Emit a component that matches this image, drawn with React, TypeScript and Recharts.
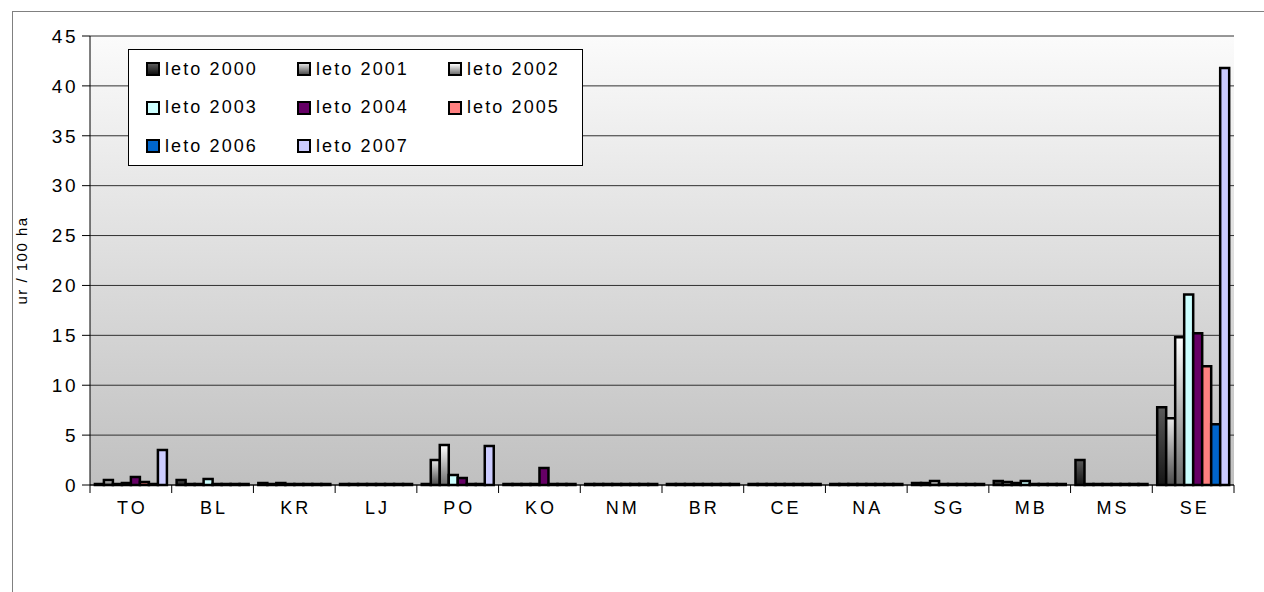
import React from "react";
import { BarChart, Bar, XAxis, YAxis, CartesianGrid, Legend } from "recharts";

const categories = ["TO", "BL", "KR", "LJ", "PO", "KO", "NM", "BR", "CE", "NA", "SG", "MB", "MS", "SE"];

const leto2000 = [0.1, 0.5, 0.2, 0, 0, 0, 0, 0, 0, 0, 0.2, 0.4, 2.5, 7.8];
const leto2001 = [0.5, 0.1, 0.1, 0, 2.5, 0, 0, 0, 0, 0, 0.2, 0.3, 0, 6.7];
const leto2002 = [0.1, 0.1, 0.2, 0, 4.0, 0, 0, 0, 0, 0, 0.4, 0.2, 0, 14.8];
const leto2003 = [0.2, 0.6, 0, 0, 1.0, 0, 0, 0, 0, 0, 0.1, 0.4, 0, 19.1];
const leto2004 = [0.8, 0, 0, 0, 0.7, 1.7, 0, 0, 0.1, 0, 0, 0.1, 0, 15.2];
const leto2005 = [0.3, 0, 0, 0, 0, 0, 0, 0, 0, 0, 0, 0, 0, 11.9];
const leto2006 = [0, 0, 0, 0, 0, 0, 0, 0, 0, 0, 0, 0, 0, 6.1];
const leto2007 = [3.5, 0, 0, 0, 3.9, 0, 0, 0, 0, 0, 0, 0, 0, 41.8];

const years = ["2000", "2001", "2002", "2003", "2004", "2005", "2006", "2007"];
const series = [leto2000, leto2001, leto2002, leto2003, leto2004, leto2005, leto2006, leto2007];
const yTicks = [0, 5, 10, 15, 20, 25, 30, 35, 40, 45];

const barFills = ["url(#g2000)", "url(#g2001)", "url(#g2002)", "#CCFFFF", "#660066", "#FF8080", "#0066CC", "#CCCCFF"];
const swatchFills = [
  "linear-gradient(#5a5a5a, #111)",
  "linear-gradient(#e0e0e0, #505050)",
  "linear-gradient(#ffffff, #707070)",
  "#CCFFFF",
  "#660066",
  "#FF8080",
  "#0066CC",
  "#CCCCFF",
];

const W = 1264;
const H = 592;
const margin = { top: 36, right: 30, left: 30, bottom: 77 };
const Y_AXIS_W = 60;
const halfBand = (W - margin.left - Y_AXIS_W - margin.right) / categories.length / 2;
const FONT = "'Liberation Sans', Arial, sans-serif";

const data = categories.map((name, i) => {
  const row: Record<string, string | number> = { name };
  years.forEach((y, s) => {
    row["leto" + y] = series[s][i];
  });
  return row;
});

const CategoryTick = (props: any) => {
  const { x, y, payload } = props;
  const index = props.index ?? payload.index;
  return (
    <g>
      <line x1={x - halfBand} y1={y} x2={x - halfBand} y2={y + 8} stroke="#000" />
      {index === categories.length - 1 && (
        <line x1={x + halfBand} y1={y} x2={x + halfBand} y2={y + 8} stroke="#000" />
      )}
      <text x={x + 1.5} y={y + 29} textAnchor="middle" fontSize={18} letterSpacing={3} fill="#000" fontFamily={FONT}>
        {payload.value}
      </text>
    </g>
  );
};

const renderLegend = () => (
  <div
    style={{
      width: 455,
      height: 117,
      boxSizing: "border-box",
      border: "1px solid #000",
      background: "#fff",
      display: "grid",
      gridTemplateColumns: "151px 151px 151px",
      gridAutoRows: "38.5px",
      paddingLeft: 17,
      alignItems: "center",
      fontFamily: FONT,
    }}
  >
    {years.map((y, i) => (
      <div key={y} style={{ display: "flex", alignItems: "center" }}>
        <span
          style={{
            display: "inline-block",
            width: 14,
            height: 14,
            boxSizing: "border-box",
            border: "2px solid #000",
            background: swatchFills[i],
            marginRight: 5,
          }}
        />
        <span style={{ fontSize: 18, letterSpacing: 2.1, color: "#000" }}>leto {y}</span>
      </div>
    ))}
  </div>
);

export default function App() {
  return (
    <div style={{ position: "absolute", left: 0, top: 0, width: W, height: H, background: "#fff" }}>
      <div
        style={{
          position: "absolute",
          left: 12,
          top: 11,
          width: W - 12,
          height: H - 11,
          boxSizing: "border-box",
          borderLeft: "1px solid #808080",
          borderTop: "1px solid #808080",
          overflow: "hidden",
        }}
      >
        <div style={{ position: "absolute", left: -13, top: -12 }}>
          <BarChart
            width={W}
            height={H}
            data={data}
            margin={margin}
            barCategoryGap="6%"
            barGap={0}
            style={{ fontFamily: FONT }}
          >
            <defs>
              <linearGradient id="wall" x1="0" y1="0" x2="0" y2="1">
                <stop offset="0%" stopColor="#fbfbfb" />
                <stop offset="100%" stopColor="#c0c0c0" />
              </linearGradient>
              <linearGradient id="g2000" x1="0" y1="0" x2="0" y2="1">
                <stop offset="0%" stopColor="#5a5a5a" />
                <stop offset="100%" stopColor="#151515" />
              </linearGradient>
              <linearGradient id="g2001" x1="0" y1="0" x2="0" y2="1">
                <stop offset="0%" stopColor="#e8e8e8" />
                <stop offset="100%" stopColor="#4a4a4a" />
              </linearGradient>
              <linearGradient id="g2002" x1="0" y1="0" x2="0" y2="1">
                <stop offset="0%" stopColor="#ffffff" />
                <stop offset="100%" stopColor="#6a6a6a" />
              </linearGradient>
            </defs>
            <CartesianGrid vertical={false} stroke="#303030" fill="url(#wall)" yAxisId="l" />
            <XAxis
              dataKey="name"
              interval={0}
              tickSize={0}
              tickMargin={0}
              tick={<CategoryTick />}
              axisLine={{ stroke: "#000" }}
              tickLine={false}
            />
            <YAxis
              yAxisId="l"
              width={Y_AXIS_W}
              domain={[0, 45]}
              ticks={yTicks}
              interval={0}
              tickSize={8}
              tickMargin={4}
              axisLine={{ stroke: "#000" }}
              tickLine={{ stroke: "#000" }}
              tick={{ fontSize: 19, fill: "#000", letterSpacing: 2.5 }}
              label={{
                content: (p: any) => {
                  const vb = p.viewBox;
                  const cx = vb.x - 9;
                  const cy = vb.y + vb.height / 2;
                  return (
                    <text
                      x={cx}
                      y={cy}
                      transform={`rotate(-90 ${cx} ${cy})`}
                      textAnchor="middle"
                      dominantBaseline="central"
                      fontSize={15}
                      letterSpacing={1.5}
                      fill="#000"
                      fontFamily={FONT}
                    >
                      ur / 100 ha
                    </text>
                  );
                },
              }}
            />
            <YAxis
              yAxisId="r"
              orientation="right"
              width={0}
              domain={[0, 45]}
              ticks={yTicks}
              tick={false}
              tickLine={false}
              axisLine={{ stroke: "#909090", strokeWidth: 2 }}
            />
            <Legend
              layout="horizontal"
              verticalAlign="middle"
              align="center"
              content={renderLegend}
              wrapperStyle={{ left: 128, top: 49, width: 455, height: 117 }}
            />
            {years.map((y, s) => (
              <Bar
                key={y}
                yAxisId="l"
                dataKey={"leto" + y}
                name={"leto " + y}
                fill={barFills[s]}
                stroke="#000"
                strokeWidth={2.5}
                minPointSize={1}
                isAnimationActive={false}
              />
            ))}
          </BarChart>
        </div>
      </div>
    </div>
  );
}
